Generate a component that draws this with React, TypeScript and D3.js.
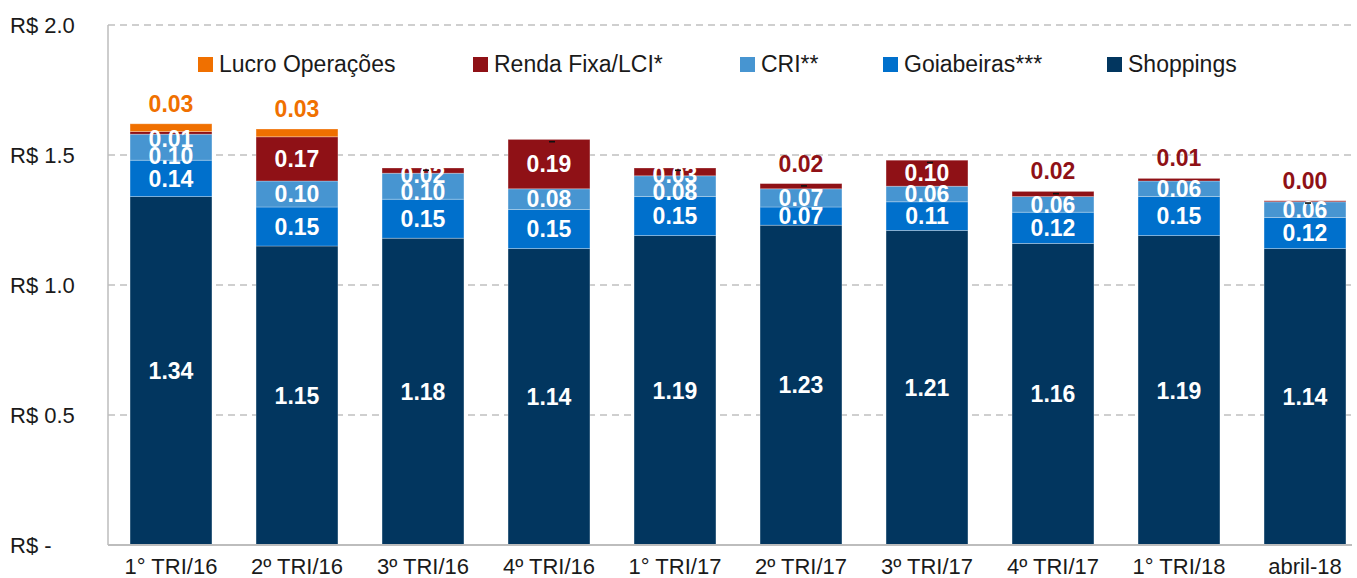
import React, { useEffect, useRef } from 'react';
import * as d3 from 'd3';

// chart data
const categories = ['1° TRI/16', '2º TRI/16', '3º TRI/16', '4º TRI/16', '1° TRI/17', '2º TRI/17', '3º TRI/17', '4º TRI/17', '1° TRI/18', 'abril-18'];
const shoppings = [1.34, 1.15, 1.18, 1.14, 1.19, 1.23, 1.21, 1.16, 1.19, 1.14];
const goiabeiras = [0.14, 0.15, 0.15, 0.15, 0.15, 0.07, 0.11, 0.12, 0.15, 0.12];
const cri = [0.10, 0.10, 0.10, 0.08, 0.08, 0.07, 0.06, 0.06, 0.06, 0.06];
const rendaFixa = [0.01, 0.17, 0.02, 0.19, 0.03, 0.02, 0.10, 0.02, 0.01, 0.004];
const lucroOperacoes = [0.03, 0.03, 0, 0, 0, 0, 0, 0, null, 0];
const yTicks = [0, 0.5, 1.0, 1.5, 2.0];
const yTickLabels = ['R$ -', 'R$ 0.5', 'R$ 1.0', 'R$ 1.5', 'R$ 2.0'];

// bars whose small values are labelled above the bar instead of inside
const rendaLabelAbove = ['2º TRI/17', '4º TRI/17', '1° TRI/18', 'abril-18'];
const lucroLabelAbove = ['1° TRI/16', '2º TRI/16'];

const series = [
  { key: 'shoppings', name: 'Shoppings', values: shoppings, color: '#02365f' },
  { key: 'goiabeiras', name: 'Goiabeiras***', values: goiabeiras, color: '#0070cc' },
  { key: 'cri', name: 'CRI**', values: cri, color: '#4795d1' },
  { key: 'renda', name: 'Renda Fixa/LCI*', values: rendaFixa, color: '#8f1116' },
  { key: 'lucro', name: 'Lucro Operações', values: lucroOperacoes, color: '#f07000' },
];

const FONT = '"Liberation Sans", Arial, Helvetica, sans-serif';

const App = () => {
  const svgRef = useRef<SVGSVGElement>(null);

  useEffect(() => {
    const width = 1357;
    const height = 578;
    const svg = d3.select(svgRef.current).attr('width', width).attr('height', height);
    svg.selectAll('*').remove();

    const x = d3.scaleBand().domain(categories).range([108, 1368]).paddingInner(0.35).paddingOuter(0.175);
    const y = d3.scaleLinear().domain([0, 2]).range([545, 25]);
    const plotRight = 1352;

    const rows = categories.map((c, i) => {
      const r: any = { cat: c };
      series.forEach(s => { r[s.key] = s.values[i] ?? 0; });
      return r;
    });
    const stacked = d3.stack().keys(series.map(s => s.key))(rows);

    // gridlines
    svg.append('g').selectAll('line')
      .data(yTicks.filter(t => t > 0))
      .enter().append('line')
      .attr('x1', 108).attr('x2', plotRight)
      .attr('y1', d => y(d)).attr('y2', d => y(d))
      .attr('stroke', '#c0c0c0').attr('stroke-width', 1.5)
      .attr('stroke-dasharray', '7,5');

    // y labels
    svg.append('g').selectAll('text')
      .data(yTicks)
      .enter().append('text')
      .attr('x', 10).attr('y', d => y(d) + 8)
      .attr('font-family', FONT).attr('font-size', 22).attr('fill', '#1a1a1a')
      .text((d, i) => yTickLabels[i]);

    // bars
    stacked.forEach((layer, si) => {
      svg.append('g').selectAll('rect')
        .data(layer)
        .enter().append('rect')
        .attr('x', (d: any) => x(d.data.cat)!)
        .attr('width', x.bandwidth())
        .attr('y', d => y(d[1]))
        .attr('height', d => Math.max(0, y(d[0]) - y(d[1])))
        .attr('fill', series[si].color)
        .attr('stroke', 'rgba(255,255,255,0.35)')
        .attr('stroke-width', 0.8);
    });

    // axes
    svg.append('line').attr('x1', 108).attr('x2', 108).attr('y1', 25).attr('y2', 545)
      .attr('stroke', '#bdbdbd').attr('stroke-width', 1.5);
    svg.append('line').attr('x1', 108).attr('x2', plotRight).attr('y1', 545).attr('y2', 545)
      .attr('stroke', '#bdbdbd').attr('stroke-width', 2);

    // x labels
    svg.append('g').selectAll('text')
      .data(categories)
      .enter().append('text')
      .attr('x', d => x(d)! + x.bandwidth() / 2)
      .attr('y', 574)
      .attr('text-anchor', 'middle')
      .attr('font-family', FONT).attr('font-size', 22).attr('fill', '#1a1a1a')
      .text(d => d);

    // data labels
    const labels = svg.append('g').attr('font-family', FONT).attr('font-weight', 'bold').attr('font-size', 23);
    categories.forEach((cat, i) => {
      const cx = x(cat)! + x.bandwidth() / 2;
      const barTop = y(stacked[stacked.length - 1][i][1]);
      // inside labels, top-down so small segments don't pile up
      let prev = -Infinity;
      let first = true;
      for (let si = series.length - 1; si >= 0; si--) {
        const s = series[si];
        const v = s.values[i];
        const seg = stacked[si][i];
        if (v == null || v === 0) continue;
        const above = (s.key === 'renda' && rendaLabelAbove.includes(cat)) || (s.key === 'lucro' && lucroLabelAbove.includes(cat));
        if (above) {
          labels.append('text').attr('x', cx).attr('y', barTop - 12)
            .attr('text-anchor', 'middle').attr('fill', s.color)
            .text(v.toFixed(2));
          continue;
        }
        let cy = (y(seg[0]) + y(seg[1])) / 2;
        if (first) cy = Math.max(cy, y(seg[1]) + 7);
        cy = Math.max(cy, prev + 17);
        prev = cy;
        first = false;
        labels.append('text').attr('x', cx).attr('y', cy).attr('dy', '0.36em')
          .attr('text-anchor', 'middle').attr('fill', '#ffffff')
          .text(v.toFixed(2));
      }
      // zero-valued "Lucro" point shows as a tiny dash label
      if (lucroOperacoes[i] === 0) {
        svg.append('rect').attr('x', cx).attr('y', barTop + 1.5).attr('width', 6).attr('height', 1.6).attr('fill', '#111');
      }
    });

    // legend (drawn in reverse series order)
    const legendX = [198, 473, 740, 883, 1107];
    const legend = svg.append('g').attr('font-family', FONT).attr('font-size', 23);
    series.slice().reverse().forEach((s, i) => {
      legend.append('rect').attr('x', legendX[i]).attr('y', 57).attr('width', 15).attr('height', 15).attr('fill', s.color);
      legend.append('text').attr('x', legendX[i] + 21).attr('y', 72).attr('fill', '#1a1a1a').text(s.name);
    });
  }, []);

  return <svg ref={svgRef} style={{ position: 'absolute', left: 0, top: 0, background: '#fff' }} />;
};

export default App;
